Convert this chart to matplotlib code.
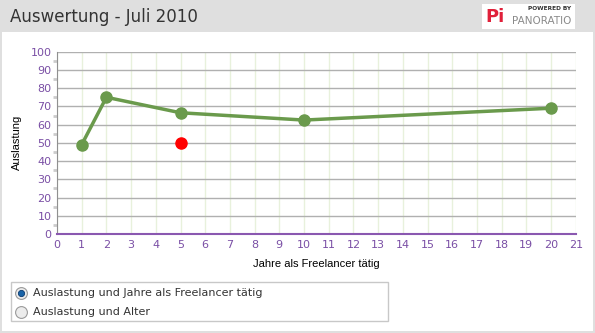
import numpy as np
import matplotlib.pyplot as plt
from matplotlib.patches import Rectangle
from matplotlib.lines import Line2D

# data
years = [1, 2, 5, 10, 20]
auslastung = [49, 75, 66.5, 62.5, 69]
single_x = [5]
single_y = [50]
x_ticks = list(range(0, 22))
y_ticks = list(range(0, 101, 10))
legend_items = ['Auslastung und Jahre als Freelancer tätig', 'Auslastung und Alter']

W, H = 595, 333
fig = plt.figure(figsize=(W / 100, H / 100), dpi=100)
fig.patch.set_facecolor('white')

def fx(px):
    return px / W

def fy(py):
    return 1 - py / H

# header band and panel border
fig.patches.append(Rectangle((0, fy(32)), 1, 32 / H, transform=fig.transFigure,
                             facecolor='#dfdfdf', edgecolor='none', zorder=0))
fig.patches.append(Rectangle((0, 0), fx(2), fy(32), transform=fig.transFigure,
                             facecolor='#dfdfdf', edgecolor='none', zorder=0))
fig.patches.append(Rectangle((fx(593), 0), fx(2), fy(32), transform=fig.transFigure,
                             facecolor='#dfdfdf', edgecolor='none', zorder=0))
fig.patches.append(Rectangle((0, 0), 1, 2 / H, transform=fig.transFigure,
                             facecolor='#dfdfdf', edgecolor='none', zorder=0))
fig.text(fx(10), fy(17), 'Auswertung - Juli 2010', fontsize=12, color='#333333',
         va='center', ha='left', family='DejaVu Sans')

# logo box
fig.patches.append(Rectangle((fx(482), fy(29)), fx(93), 25 / H, transform=fig.transFigure,
                             facecolor='white', edgecolor='none', zorder=1))
fig.text(fx(495), fy(17), 'Pi', fontsize=13, color='#e0203a', fontweight='bold',
         va='center', ha='center', family='DejaVu Sans', zorder=2)
fig.text(fx(571), fy(9), 'POWERED BY', fontsize=4.2, color='#333333', fontweight='bold',
         va='center', ha='right', family='DejaVu Sans', zorder=2)
fig.text(fx(571), fy(21), 'PANORATIO', fontsize=7.5, color='#8a8a8a',
         va='center', ha='right', family='DejaVu Sans', zorder=2)

# plot area
ax = fig.add_axes([fx(57), fy(234), fx(575.7 - 57), (234 - 51.7) / H])
ax.set_xlim(0, 21)
ax.set_ylim(0, 100)
ax.set_xticks(x_ticks)
ax.set_yticks(y_ticks)
ax.set_yticks(np.arange(5, 100, 10), minor=True)
ax.tick_params(axis='both', which='major', length=0, colors='#7a4fa5', labelsize=8, pad=4)
ax.tick_params(axis='y', which='minor', length=3, width=2, color='#cccccc')
for lab in ax.get_xticklabels() + ax.get_yticklabels():
    lab.set_family('DejaVu Sans')
ax.grid(axis='y', color='#b0b0b0', linewidth=1)
ax.grid(axis='x', color='#e8f1dc', linewidth=1)
ax.set_axisbelow(True)
for s in ['top', 'right']:
    ax.spines[s].set_visible(False)
ax.spines['left'].set_color('#909090')
ax.spines['bottom'].set_color('#8a58b0')
ax.spines['bottom'].set_linewidth(1.5)

ax.plot(years, auslastung, color='#6a9a4c', linewidth=2.5, marker='o',
        markersize=8, clip_on=False, zorder=3)
ax.plot(single_x, single_y, linestyle='none', marker='o', color='#ff0000',
        markersize=8, zorder=3)

ax.set_ylabel('Auslastung', fontsize=8, family='Liberation Sans', color='black', labelpad=6)
fig.text(fx(316), fy(264), 'Jahre als Freelancer tätig', fontsize=8,
         family='Liberation Sans', color='black', ha='center', va='center')

# legend box with radio buttons
fig.patches.append(Rectangle((fx(11), fy(321)), fx(377), 39 / H, transform=fig.transFigure,
                             facecolor='white', edgecolor='#c8c8c8', linewidth=1, zorder=1))
for i, item in enumerate(legend_items):
    cy = 293 + i * 19
    fig.add_artist(Line2D([fx(21)], [fy(cy)], transform=fig.transFigure, marker='o',
                          markersize=8.5, markerfacecolor='#ececec',
                          markeredgecolor='#9a9a9a', markeredgewidth=0.8, zorder=2))
    if i == 0:
        fig.add_artist(Line2D([fx(21)], [fy(cy)], transform=fig.transFigure, marker='o',
                              markersize=4.5, markerfacecolor='#1a64a8',
                              markeredgecolor='#0a3a70', markeredgewidth=0.6, zorder=3))
    fig.text(fx(33), fy(cy), item, fontsize=8, color='#333333', va='center', ha='left',
             family='DejaVu Sans')

fig.savefig('out.png', dpi=100)
